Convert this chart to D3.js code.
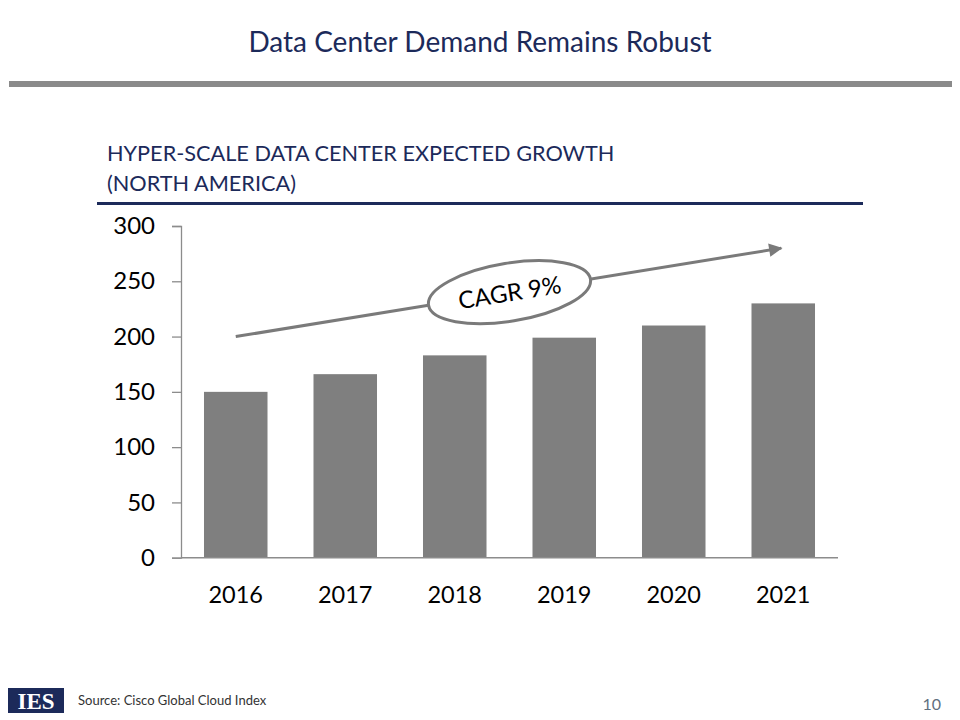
<!DOCTYPE html>
<html>
<head>
<meta charset="utf-8">
<script src="https://cdn.jsdelivr.net/npm/d3@7"></script>
<style>
  html, body { margin: 0; padding: 0; background: #ffffff; }
  svg { display: block; font-family: Lato, "Open Sans", sans-serif; }
</style>
</head>
<body>
<svg id="chart" width="960" height="720"></svg>
<script>
const years = ["2016", "2017", "2018", "2019", "2020", "2021"];
const values = [150, 166, 183, 199, 210, 230];
const yTicks = [0, 50, 100, 150, 200, 250, 300];
const titleText = "Data Center Demand Remains Robust";
const subtitleLines = ["HYPER-SCALE DATA CENTER EXPECTED GROWTH", "(NORTH AMERICA)"];
const cagrLabel = "CAGR 9%";
const trendValues = [200, 280];
const sourceText = "Source: Cisco Global Cloud Index";
const pageNumber = "10";

const svg = d3.select("#chart");
const navy = "#1c2a5a";
const grey = "#7f7f7f";
const axisGrey = "#8c8c8c";

// Title
svg.append("text").attr("x", 480).attr("y", 52).attr("text-anchor", "middle")
  .attr("font-size", 28).attr("fill", navy).text(titleText);

// header rule
svg.append("rect").attr("x", 9).attr("y", 81).attr("width", 943).attr("height", 6).attr("fill", "#8a8a8a");

// subtitle
svg.selectAll("text.sub").data(subtitleLines).join("text").attr("class", "sub")
  .attr("x", 107).attr("y", (d, i) => 161 + i * 30)
  .attr("font-size", 21.7).attr("fill", navy).text(d => d);

svg.append("rect").attr("x", 97).attr("y", 202).attr("width", 766).attr("height", 3).attr("fill", navy);

// scales
const x = d3.scaleBand().domain(years).range([181, 838]).paddingInner(0.42).paddingOuter(0.21);
const y = d3.scaleLinear().domain([0, 300]).range([557.7, 226]);

// bars
svg.append("g").selectAll("rect").data(values).join("rect")
  .attr("x", (d, i) => x(years[i]))
  .attr("y", d => y(d))
  .attr("width", x.bandwidth())
  .attr("height", d => y(0) - y(d))
  .attr("fill", grey);

// y axis
const yAxis = svg.append("g").attr("transform", "translate(181,0)")
  .call(d3.axisLeft(y).tickValues(yTicks).tickSize(9).tickPadding(17).tickFormat(d3.format("d")));
yAxis.select(".domain").attr("stroke", axisGrey).attr("stroke-width", 1.3);
yAxis.selectAll(".tick line").attr("stroke", axisGrey).attr("stroke-width", 1.3);
yAxis.selectAll(".tick text").attr("fill", "#000")
  .style("font-size", "24px").style("font-family", "Lato");

// x axis
const xAxis = svg.append("g").attr("transform", `translate(0,${y(0)})`)
  .call(d3.axisBottom(x).tickSize(0).tickPadding(29));
xAxis.select(".domain").attr("stroke", axisGrey).attr("stroke-width", 1.5).attr("d", `M181,0H838`);
xAxis.selectAll(".tick text").attr("fill", "#000")
  .style("font-size", "23.5px").style("font-family", "Lato");

// trend arrow
const x0 = x(years[0]) + x.bandwidth() / 2;
const x1 = x(years[years.length - 1]) + x.bandwidth() / 2 - 2;
const y0 = y(trendValues[0]), y1 = y(trendValues[1]);
const defs = svg.append("defs");
defs.append("marker").attr("id", "arrow").attr("viewBox", "0 0 10 10")
  .attr("refX", 9).attr("refY", 5).attr("markerWidth", 6.5).attr("markerHeight", 4.5)
  .attr("markerUnits", "strokeWidth").attr("orient", "auto")
  .append("path").attr("d", "M0,0L10,5L0,10Z").attr("fill", "#7a7a7a");
svg.append("line").attr("x1", x0).attr("y1", y0).attr("x2", x1).attr("y2", y1)
  .attr("stroke", "#7a7a7a").attr("stroke-width", 3).attr("marker-end", "url(#arrow)");

// CAGR ellipse
const cx = (x(years[2]) + x(years[3]) + x.bandwidth()) / 2;
const cy = y0 + (y1 - y0) * (cx - x0) / (x1 - x0);
const angle = Math.atan2(y1 - y0, x1 - x0) * 180 / Math.PI;
const eg = svg.append("g").attr("transform", `translate(${cx},${cy}) rotate(${angle})`);
eg.append("ellipse").attr("rx", 82).attr("ry", 29).attr("fill", "#fff")
  .attr("stroke", "#7a7a7a").attr("stroke-width", 3);
eg.append("text").attr("x", 0).attr("y", 9).attr("text-anchor", "middle")
  .attr("font-size", 24).attr("fill", "#000").text(cagrLabel);

// footer logo
const logo = svg.append("g");
logo.append("rect").attr("x", 8).attr("y", 688).attr("width", 56).attr("height", 25).attr("fill", "#1c2a5a");
logo.append("text").attr("x", 36).attr("y", 708.5).attr("text-anchor", "middle")
  .style("font-family", "'Liberation Serif', 'DejaVu Serif', serif").style("font-weight", "bold")
  .style("font-size", "23px").attr("fill", "#fff").text("IES");

svg.append("text").attr("x", 78).attr("y", 705).attr("font-size", 13).attr("fill", "#333").text(sourceText);
svg.append("text").attr("x", 941).attr("y", 710).attr("text-anchor", "end")
  .attr("font-size", 16).attr("fill", "#5f6f7f").text(pageNumber);
</script>
</body>
</html>
